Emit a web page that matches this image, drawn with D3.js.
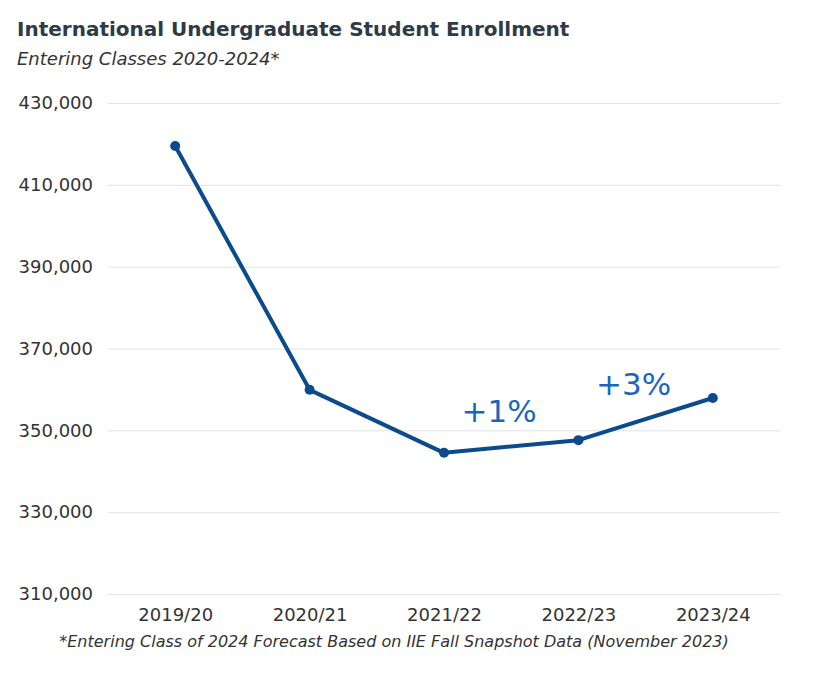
<!DOCTYPE html>
<html>
<head>
<meta charset="utf-8">
<script src="https://cdn.jsdelivr.net/npm/d3@7"></script>
<style>
  body { margin: 0; background: #fff; }
  #viz { width: 818px; height: 686px; }
  text { font-family: "DejaVu Sans", Verdana, sans-serif; }
</style>
</head>
<body>
<div id="viz"></div>
<script>
// chart data
var years = ['2019/20', '2020/21', '2021/22', '2022/23', '2023/24'];
var enrollment = [419500, 359900, 344500, 347600, 357900];
var yTicks = [310000, 330000, 350000, 370000, 390000, 410000, 430000];
var changeLabels = ['+1%', '+3%'];
var changeFrom = ['2021/22', '2022/23'];
var changeTo = ['2022/23', '2023/24'];

function makeChart() {
    var width = 818;
    var height = 686;
    var margin = { top: 103, right: 38, bottom: 92, left: 108 };

    var svg = d3.select('#viz')
        .append('svg')
        .attr('width', width)
        .attr('height', height);

    var xScale = d3.scalePoint()
        .domain(years)
        .range([margin.left, width - margin.right])
        .padding(0.5);

    var yScale = d3.scaleLinear()
        .domain([310000, 430000])
        .range([height - margin.bottom, margin.top]);

    // titles
    svg.append('text')
        .attr('x', 17).attr('y', 36)
        .attr('font-size', 20).attr('font-weight', 'bold')
        .attr('fill', '#2e3a46')
        .text('International Undergraduate Student Enrollment');
    svg.append('text')
        .attr('x', 17).attr('y', 65)
        .attr('font-size', 18).attr('font-style', 'italic')
        .attr('fill', '#333')
        .text('Entering Classes 2020-2024*');

    // y grid + labels
    var yAxis = d3.axisLeft(yScale)
        .tickValues(yTicks)
        .tickSize(-(width - margin.left - margin.right))
        .tickPadding(15)
        .tickFormat(d3.format(','));
    var gy = svg.append('g')
        .attr('transform', 'translate(' + margin.left + ',0)')
        .call(yAxis);
    gy.select('.domain').remove();
    gy.selectAll('line').attr('stroke', '#dfe3e8').attr('stroke-width', 1);
    gy.selectAll('text')
        .attr('font-size', 18)
        .attr('fill', '#333');

    // x labels
    var xAxis = d3.axisBottom(xScale).tickSize(0).tickPadding(14);
    var gx = svg.append('g')
        .attr('transform', 'translate(0,' + (height - margin.bottom) + ')')
        .call(xAxis);
    gx.select('.domain').remove();
    gx.selectAll('text')
        .attr('font-size', 18)
        .attr('fill', '#333');

    var points = years.map(function (d, i) {
        return { year: d, value: enrollment[i] };
    });

    var line = d3.line()
        .x(function (d) { return xScale(d.year); })
        .y(function (d) { return yScale(d.value); });

    svg.append('path')
        .datum(points)
        .attr('d', line)
        .attr('fill', 'none')
        .attr('stroke', '#0b4a8b')
        .attr('stroke-width', 4)
        .attr('stroke-linejoin', 'round');

    svg.selectAll('circle.pt')
        .data(points)
        .enter().append('circle')
        .attr('class', 'pt')
        .attr('cx', function (d) { return xScale(d.year); })
        .attr('cy', function (d) { return yScale(d.value); })
        .attr('r', 5)
        .attr('fill', '#0b4a8b');

    // change annotations, sat above the middle of each segment
    changeLabels.forEach(function (lab, i) {
        var a = years.indexOf(changeFrom[i]);
        var b = years.indexOf(changeTo[i]);
        var mx = (xScale(years[a]) + xScale(years[b])) / 2;
        var my = (yScale(enrollment[a]) + yScale(enrollment[b])) / 2;
        svg.append('text')
            .attr('x', mx - 12)
            .attr('y', my - 24)
            .attr('text-anchor', 'middle')
            .attr('font-size', 31)
            .attr('fill', '#1a66bf')
            .text(lab);
    });

    // footnote
    svg.append('text')
        .attr('x', (margin.left + width - margin.right) / 2 - 50)
        .attr('y', 647)
        .attr('text-anchor', 'middle')
        .attr('font-size', 16).attr('font-style', 'italic')
        .attr('fill', '#333')
        .text('*Entering Class of 2024 Forecast Based on IIE Fall Snapshot Data (November 2023)');
}

makeChart();
</script>
</body>
</html>
